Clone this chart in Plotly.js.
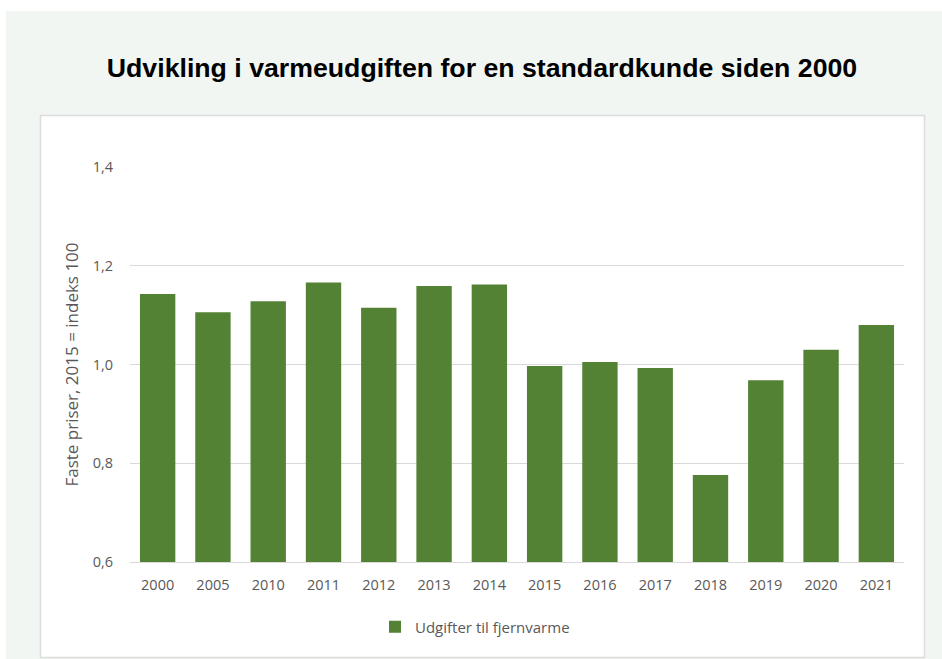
<!DOCTYPE html>
<html>
<head>
<meta charset="utf-8">
<script src="https://cdn.plot.ly/plotly-3.0.1.min.js"></script>
<style>
  html, body { margin: 0; padding: 0; background: #ffffff; }
  #chart { width: 942px; height: 659px; }
</style>
</head>
<body>
<div id="chart"></div>
<script>
// ---- Data ----
const years = ['2000', '2005', '2010', '2011', '2012', '2013', '2014',
               '2015', '2016', '2017', '2018', '2019', '2020', '2021'];
const values = [1.143, 1.106, 1.128, 1.166, 1.115, 1.159, 1.162,
                0.997, 1.005, 0.993, 0.776, 0.968, 1.030, 1.080];
const seriesName = 'Udgifter til fjernvarme';
const yTickVals = [0.6, 0.8, 1.0, 1.2, 1.4];
const yTickText = ['0,6', '0,8', '1,0', '1,2', '1,4'];
const chartTitle = 'Udvikling i varmeudgiften for en standardkunde siden 2000';
const yTitle = 'Faste priser, 2015 = indeks 100';

// ---- Layout geometry (pixels) ----
const W = 942, H = 659;
const M = { l: 130, r: 38, t: 167, b: 97 };
const PW = W - M.l - M.r, PH = H - M.t - M.b;
const px2x = (x) => (x - M.l) / PW;
const px2y = (y) => (H - M.b - y) / PH;

const textColor = '#595959';
const gridColor = '#d9d9d9';
const barColor = '#548235';
const bgColor = '#f1f6f2';
const bodyFont = '"Open Sans", Lato, sans-serif';

const trace = {
  type: 'bar',
  x: years,
  y: values,
  name: seriesName,
  marker: { color: barColor, line: { width: 0 } },
  showlegend: true,
  hoverinfo: 'x+y'
};

const layout = {
  width: W,
  height: H,
  margin: M,
  paper_bgcolor: '#ffffff',
  plot_bgcolor: 'rgba(0,0,0,0)',
  bargap: 0.36,
  font: { family: bodyFont, color: textColor, size: 14 },
  title: {
    text: chartTitle,
    font: { family: '"Liberation Sans", Arial, sans-serif', size: 26.7, color: '#000000', weight: 'bold' },
    xref: 'container', yref: 'container',
    x: 482 / W, xanchor: 'center',
    y: 1 - 68 / H, yanchor: 'middle'
  },
  xaxis: {
    type: 'category',
    showgrid: false,
    showline: true,
    linecolor: gridColor,
    linewidth: 1,
    ticks: '',
    tickfont: { family: bodyFont, size: 14.5, color: textColor },
    ticklabelstandoff: 10,
    fixedrange: true
  },
  yaxis: {
    range: [0.6, 1.4],
    tickvals: yTickVals,
    ticktext: yTickText,
    showgrid: true,
    gridcolor: gridColor,
    gridwidth: 1,
    zeroline: false,
    showline: false,
    ticks: '',
    tickfont: { family: bodyFont, size: 14.5, color: textColor },
    ticklabelstandoff: 16,
    automargin: true,
    title: {
      text: yTitle,
      font: { family: bodyFont, size: 17, color: textColor },
      standoff: 9
    },
    fixedrange: true
  },
  showlegend: true,
  legend: {
    orientation: 'h',
    x: px2x(375), xanchor: 'left',
    y: px2y(627), yanchor: 'middle',
    bgcolor: 'rgba(0,0,0,0)',
    font: { family: bodyFont, size: 15, color: textColor }
  },
  shapes: [
    {
      type: 'rect', xref: 'paper', yref: 'paper', layer: 'below',
      x0: px2x(6), x1: px2x(960), y0: px2y(680), y1: px2y(11),
      fillcolor: bgColor, line: { width: 0 }
    },
    {
      type: 'rect', xref: 'paper', yref: 'paper', layer: 'below',
      x0: px2x(40.5), x1: px2x(924.5), y0: px2y(657.5), y1: px2y(115.5),
      fillcolor: '#ffffff', line: { color: '#dcdcdc', width: 1.5 }
    }
  ]
};

Plotly.newPlot('chart', [trace], layout, { displayModeBar: false, staticPlot: true });
</script>
</body>
</html>
